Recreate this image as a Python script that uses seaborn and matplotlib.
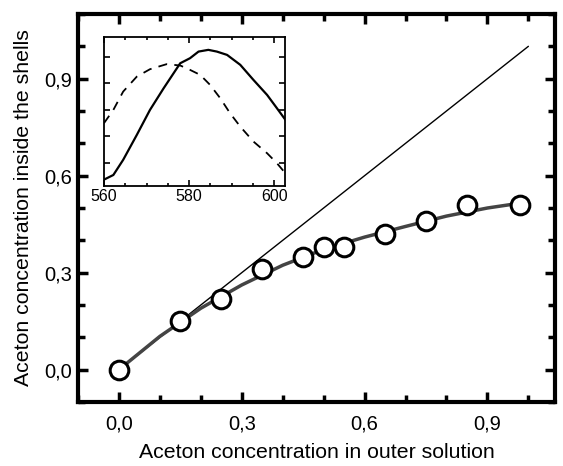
import numpy as np
import pandas as pd
import matplotlib
matplotlib.use('Agg')
import matplotlib.pyplot as plt
from matplotlib.ticker import MultipleLocator, FuncFormatter, FixedLocator, NullFormatter
import seaborn as sns

# Main data (measured points)
outerConc = [0.0, 0.15, 0.25, 0.35, 0.45, 0.50, 0.55, 0.65, 0.75, 0.85, 0.98]
innerConc = [0.0, 0.15, 0.22, 0.31, 0.35, 0.38, 0.38, 0.42, 0.46, 0.51, 0.51]
# Fit curve
fitX = [0.0, 0.1, 0.2, 0.3, 0.4, 0.5, 0.6, 0.7, 0.8, 0.9, 0.98]
fitY = [0.0, 0.103, 0.19, 0.262, 0.323, 0.372, 0.41, 0.443, 0.475, 0.5, 0.515]
diagX = [0.0, 1.0]
diagY = [0.0, 1.0]

# Inset spectra
solidWl = [560.2, 562.2, 564.5, 567.7, 570.8, 574.0, 577.9, 580.2, 582.2, 584.5,
           586.5, 588.9, 592.0, 595.1, 598.3, 600.6, 602.6]
solidInt = [0.077, 0.109, 0.223, 0.411, 0.600, 0.763, 0.952, 0.990, 1.040, 1.053,
            1.040, 1.015, 0.940, 0.826, 0.713, 0.613, 0.525]
dashWl = [560.0, 562.2, 564.5, 567.7, 570.8, 574.7, 577.9, 580.2, 582.6, 584.9,
          587.3, 589.6, 592.0, 595.1, 598.3, 600.6, 602.6]
dashInt = [0.500, 0.600, 0.738, 0.851, 0.907, 0.945, 0.935, 0.902, 0.864, 0.789,
           0.688, 0.575, 0.474, 0.361, 0.273, 0.198, 0.122]

sns.set_style('ticks')
plt.rcParams['font.family'] = ['Liberation Sans', 'DejaVu Sans']
plt.rcParams.update({'axes.edgecolor': 'black', 'text.color': 'black',
                     'axes.labelcolor': 'black', 'xtick.color': 'black',
                     'ytick.color': 'black'})

fig = plt.figure(figsize=(5.63, 4.66), dpi=100)
ax = fig.add_axes([0.1385, 0.1373, 0.8473, 0.8327])

mainDf = pd.DataFrame({'x': outerConc, 'y': innerConc})
fitDf = pd.DataFrame({'x': fitX, 'y': fitY})
ax.plot(diagX, diagY, color='black', lw=1.0)
sns.lineplot(data=fitDf, x='x', y='y', ax=ax, color='#444444', lw=2.5)
sns.scatterplot(data=mainDf, x='x', y='y', ax=ax, s=180, facecolor='white',
                edgecolor='black', linewidth=2.2, zorder=5)

ax.set_xlim(-0.1, 1.065)
ax.set_ylim(-0.1, 1.1)
ax.xaxis.set_major_locator(MultipleLocator(0.3))
ax.xaxis.set_minor_locator(MultipleLocator(0.1))
ax.yaxis.set_major_locator(MultipleLocator(0.3))
ax.yaxis.set_minor_locator(MultipleLocator(0.1))
commaFmt = FuncFormatter(lambda v, p: f'{v:.1f}'.replace('.', ',').replace('-0,0', '0,0'))
ax.xaxis.set_major_formatter(commaFmt)
ax.yaxis.set_major_formatter(commaFmt)
ax.tick_params(which='both', direction='in', top=True, right=True, labelsize=14.5, width=2.5)
ax.tick_params(which='major', length=7)
ax.tick_params(which='minor', length=5)
ax.tick_params(axis='x', which='major', pad=9)
ax.tick_params(axis='y', which='major', pad=4)
for sp in ax.spines.values():
    sp.set_linewidth(3)
ax.set_xlabel('Aceton concentration in outer solution', fontsize=15.3, labelpad=7)
ax.set_ylabel('Aceton concentration inside the shells', fontsize=15.3, labelpad=8)

# Inset
ins = fig.add_axes([0.1847, 0.6009, 0.3215, 0.3197])
sns.lineplot(x=solidWl, y=solidInt, ax=ins, color='black', lw=1.6)
sns.lineplot(x=dashWl, y=dashInt, ax=ins, color='black', lw=1.3)
ins.lines[-1].set_dashes([5, 4])
ins.set_xlim(560, 602.5)
ins.set_ylim(0.026, 1.15)
ins.xaxis.set_major_locator(FixedLocator([560, 580, 600]))
ins.xaxis.set_minor_locator(MultipleLocator(5))
ins.yaxis.set_major_locator(FixedLocator([0.2, 0.4, 0.6, 0.8, 1.0]))
ins.yaxis.set_major_formatter(NullFormatter())
ins.tick_params(which='both', direction='in', top=True, right=True, labelsize=11.5, width=1.2, pad=2)
ins.tick_params(which='major', length=4)
ins.tick_params(which='minor', length=2.5)
for sp in ins.spines.values():
    sp.set_linewidth(1.3)
ins.set_xlabel('')
ins.set_ylabel('')

fig.savefig('out.png', dpi=100)
